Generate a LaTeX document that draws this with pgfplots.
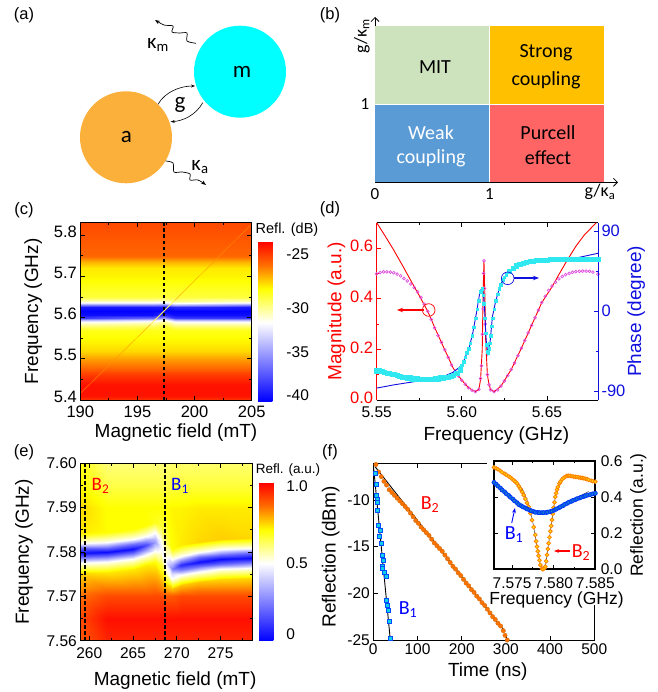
\documentclass[border=0pt]{standalone}
\usepackage{fontspec}
\setmainfont{Liberation Sans}
\newfontfamily\cb{Carlito}
\usepackage{pgfplots}
\pgfplotsset{compat=1.18}
\usetikzlibrary{arrows.meta}
\definecolor{mgreen}{HTML}{CDE3BE}
\definecolor{morange}{HTML}{FFC000}
\definecolor{mblue}{HTML}{5B9BD5}
\definecolor{mred}{HTML}{FF6565}
\definecolor{circa}{HTML}{FCB03C}
\definecolor{circm}{HTML}{00FFFF}
\definecolor{magpt}{HTML}{E050E0}
\definecolor{blue2}{HTML}{1010E0}
\definecolor{cyanpt}{HTML}{30E8F0}
\definecolor{cyansq}{HTML}{10D0E8}
\newcommand{\fs}[1]{\fontsize{#1}{#1}\selectfont}
\pgfplotsset{
  colormap={bwyr}{rgb255(0pt)=(0,0,255); rgb255(49pt)=(255,255,255); rgb255(70pt)=(255,255,0); rgb255(85pt)=(255,110,0); rgb255(100pt)=(255,0,0)},
  panel/.style={scale only axis, axis line style={line width=1pt}, tick align=inside,
    major tick length=4.5pt, minor tick length=2.5pt, every tick/.style={black,line width=.8pt},
    tick label style={font=\fs{16.5}}, label style={font=\fs{19}},
    scaled ticks=false},
  heat/.style={panel, axis on top, view={0}{90}, colormap name=bwyr, colorbar, shader=interp}
}
\begin{document}
\begin{tikzpicture}
\path[use as bounding box] (0pt,0pt) rectangle (657pt,-692pt);

% (b) regimes
\begin{axis}[scale only axis, at={(375pt,-182.3pt)}, anchor=south west, width=243pt, height=165.3pt,
  xmin=0, xmax=2.124, ymin=0, ymax=2.115, axis lines=left, axis line style={line width=.8pt,-{Straight Barb[length=4pt]}},
  xtick={0,1}, xticklabels={0,1}, ytick={1}, yticklabels={1}, tick style={draw=none}, tick label style={font=\cb\fs{17}}, clip=false,
  xticklabel style={yshift=-1pt}]
\addplot[fill=mgreen,draw=none] coordinates {(0,1) (1,1) (1,2) (0,2)} --cycle;
\addplot[fill=morange,draw=none] coordinates {(1,1) (2,1) (2,2) (1,2)} --cycle;
\addplot[fill=mblue,draw=none] coordinates {(0,0) (1,0) (1,1) (0,1)} --cycle;
\addplot[fill=mred,draw=none] coordinates {(1,0) (2,0) (2,1) (1,1)} --cycle;
\addplot[white,line width=.8pt] coordinates {(1,0) (1,2)};
\addplot[white,line width=.8pt] coordinates {(0,1) (2,1)};
\end{axis}

% (c)
\begin{axis}[heat, at={(80.3pt,-400pt)}, anchor=south west, width=171.4pt, height=177.3pt,
  xmin=190, xmax=205, ymin=5.4, ymax=5.83,
  xtick={190,195,200,205}, xticklabels={190,195,200,205}, minor xtick={192.5,197.5,202.5},
  ytick={5.4,5.5,5.6,5.7,5.8}, yticklabels={5.4,5.5,5.6,5.7,5.8}, minor ytick={5.45,5.55,5.65,5.75},
  yticklabel style={yshift=3.5pt}, xticklabel style={yshift=-2pt},
  xlabel={Magnetic field (mT)}, ylabel={Frequency (GHz)},
  xlabel style={xshift=10pt},
  xlabel shift=0pt, ylabel shift=5pt,
  point meta min=-41, point meta max=-23,
  colorbar style={scale only axis, at={(parent axis.south east)}, anchor=south west, xshift=-2pt, yshift=-1pt,
    width=24.7pt, height=160pt, axis line style={draw=none}, major tick length=0pt,
    ytick={-24.5,-30.5,-35.5,-40.3}, yticklabels={-25,-30,-35,-40},
    tick label style={font=\fs{15.5}}}]
\addplot3[surf, shader=interp, mesh/rows=26, mesh/cols=5] coordinates {
(190,5.40,-24.3) (196.3,5.40,-24.3) (197.3,5.40,-24.3) (198.3,5.40,-24.3) (205,5.40,-24.3)
(190,5.41,-23.5) (196.3,5.41,-23.5) (197.3,5.41,-23.5) (198.3,5.41,-23.5) (205,5.41,-23.5)
(190,5.43,-23.4) (196.3,5.43,-23.4) (197.3,5.43,-23.4) (198.3,5.43,-23.4) (205,5.43,-23.4)
(190,5.44,-23.5) (196.3,5.44,-23.5) (197.3,5.44,-23.5) (198.3,5.44,-23.5) (205,5.44,-23.5)
(190,5.46,-24.4) (196.3,5.46,-24.4) (197.3,5.46,-24.4) (198.3,5.46,-24.4) (205,5.46,-24.4)
(190,5.48,-25.7) (196.3,5.48,-25.7) (197.3,5.48,-25.7) (198.3,5.48,-25.7) (205,5.48,-25.7)
(190,5.50,-26.6) (196.3,5.50,-26.6) (197.3,5.50,-26.6) (198.3,5.50,-26.6) (205,5.50,-26.6)
(190,5.52,-27.7) (196.3,5.52,-27.7) (197.3,5.52,-27.7) (198.3,5.52,-27.7) (205,5.52,-27.7)
(190,5.55,-28.4) (196.3,5.55,-28.4) (197.3,5.55,-28.4) (198.3,5.55,-28.4) (205,5.55,-28.4)
(190,5.57,-28.8) (196.3,5.57,-28.8) (197.3,5.57,-28.8) (198.3,5.57,-28.8) (205,5.57,-28.8)
(190,5.58,-30.2) (196.3,5.58,-29.8) (197.3,5.58,-29.2) (198.3,5.58,-30.2) (205,5.58,-30.2)
(190,5.59,-32.0) (196.3,5.59,-31.5) (197.3,5.59,-30.5) (198.3,5.59,-32.0) (205,5.59,-32.0)
(190,5.595,-34.7) (196.3,5.595,-33.5) (197.3,5.595,-32.0) (198.3,5.595,-34.7) (205,5.595,-34.7)
(190,5.60,-39.0) (196.3,5.60,-37.5) (197.3,5.60,-35.5) (198.3,5.60,-39.0) (205,5.60,-39.0)
(190,5.605,-40.5) (196.3,5.605,-40.5) (197.3,5.605,-39.5) (198.3,5.605,-40.5) (205,5.605,-40.5)
(190,5.615,-41.0) (196.3,5.615,-41.0) (197.3,5.615,-41.0) (198.3,5.615,-41.0) (205,5.615,-41.0)
(190,5.625,-40.1) (196.3,5.625,-40.1) (197.3,5.625,-40.1) (198.3,5.625,-39.5) (205,5.625,-40.1)
(190,5.63,-36.5) (196.3,5.63,-36.5) (197.3,5.63,-36.8) (198.3,5.63,-35.0) (205,5.63,-36.5)
(190,5.635,-32.9) (196.3,5.635,-32.9) (197.3,5.635,-33.2) (198.3,5.635,-32.0) (205,5.635,-32.9)
(190,5.64,-31.1) (196.3,5.64,-31.1) (197.3,5.64,-31.3) (198.3,5.64,-30.4) (205,5.64,-31.1)
(190,5.65,-29.3) (196.3,5.65,-29.3) (197.3,5.65,-29.3) (198.3,5.65,-29.3) (205,5.65,-29.3)
(190,5.70,-28.2) (196.3,5.70,-28.2) (197.3,5.70,-28.2) (198.3,5.70,-28.2) (205,5.70,-28.2)
(190,5.72,-28.0) (196.3,5.72,-28.0) (197.3,5.72,-28.0) (198.3,5.72,-28.0) (205,5.72,-28.0)
(190,5.735,-27.0) (196.3,5.735,-27.0) (197.3,5.735,-27.0) (198.3,5.735,-27.0) (205,5.735,-27.0)
(190,5.75,-25.5) (196.3,5.75,-25.5) (197.3,5.75,-25.5) (198.3,5.75,-25.5) (205,5.75,-25.5)
(190,5.83,-24.8) (196.3,5.83,-24.8) (197.3,5.83,-24.8) (198.3,5.83,-24.8) (205,5.83,-24.8)
};
\addplot3[orange!85!yellow, line width=.5pt, opacity=.75] coordinates {(190,5.416,-30) (197.3,5.615,-30) (204.9,5.824,-30)};
\addplot3[yellow!60!white, line width=.9pt] coordinates {(196.2,5.585,-30) (197.3,5.615,-30) (198.3,5.643,-30)};
\addplot3[black, line width=2pt, dash pattern=on 3.5pt off 2.5pt] coordinates {(197.3,5.4,-30) (197.3,5.83,-30)};
\end{axis}

% (d) magnitude
\begin{axis}[panel, at={(376.7pt,-400pt)}, anchor=south west, width=221.3pt, height=177.3pt,
  xmin=5.55, xmax=5.68, ymin=0, ymax=0.7,
  separate axis lines, y axis line style={red},
  xtick={5.55,5.60,5.65}, xticklabels={5.55,5.60,5.65}, minor xtick={5.575,5.625},
  ytick={0,0.2,0.4,0.6}, yticklabels={0.0,0.2,0.4,0.6}, minor ytick={0.1,0.3,0.5},
  ytick pos=left, xtick pos=both,
  ytick style={red,line width=.8pt}, yticklabel style={red,yshift=2pt},
  xticklabel style={yshift=-3pt, font=\fs{15.5}},
  xlabel={Frequency (GHz)}, ylabel={Magnitude (a.u.)}, ylabel style={red},
  xlabel style={xshift=9pt},
  xlabel shift=2pt, ylabel shift=-2pt]
\addplot[only marks, mark=o, mark size=1.4pt, magpt, mark options={line width=.7pt}] coordinates {
(5.55,.498) (5.552,.503) (5.554,.506) (5.556,.506) (5.558,.505) (5.56,.502) (5.562,.497) (5.564,.49)
(5.566,.48) (5.568,.47) (5.57,.458) (5.572,.444) (5.574,.427) (5.576,.405) (5.578,.378) (5.58,.35)
(5.582,.318) (5.584,.285) (5.586,.255) (5.588,.228) (5.59,.198) (5.592,.168) (5.594,.138) (5.596,.113)
(5.598,.095) (5.6,.078) (5.602,.062) (5.604,.048) (5.606,.038) (5.608,.033) (5.61,.042) (5.611,.085)
(5.6115,.135) (5.612,.26) (5.6125,.36) (5.6128,.5) (5.613,.55) (5.6133,.44) (5.6137,.3) (5.614,.265)
(5.615,.10) (5.616,.06) (5.617,.04) (5.619,.033) (5.621,.04) (5.623,.055) (5.625,.075) (5.627,.097)
(5.629,.12) (5.631,.146) (5.633,.175) (5.635,.205) (5.637,.235) (5.639,.265) (5.641,.295) (5.643,.325)
(5.645,.355) (5.647,.385) (5.649,.41) (5.651,.433) (5.653,.45) (5.655,.465) (5.657,.478) (5.659,.488)
(5.661,.495) (5.663,.5) (5.665,.504) (5.667,.507) (5.669,.508) (5.671,.509) (5.673,.509) (5.675,.508)
(5.677,.505) (5.68,.497)};
\addplot[red, line width=.9pt] coordinates {
(5.55,.70) (5.555,.647) (5.56,.592) (5.565,.533) (5.57,.472) (5.575,.412) (5.58,.35) (5.585,.272)
(5.59,.198) (5.595,.125) (5.6,.078) (5.604,.048) (5.608,.033) (5.61,.042) (5.611,.08) (5.612,.2)
(5.6125,.42) (5.613,.55) (5.6135,.42) (5.614,.24) (5.615,.10) (5.616,.06) (5.617,.04) (5.619,.033)
(5.623,.055) (5.629,.12) (5.635,.205) (5.641,.295) (5.647,.385) (5.653,.447) (5.657,.495) (5.662,.553)
(5.667,.607) (5.672,.652) (5.679,.70)};
\end{axis}
% (d) phase
\begin{axis}[panel, at={(376.7pt,-400pt)}, anchor=south west, width=221.3pt, height=177.3pt,
  xmin=5.55, xmax=5.68, ymin=-100, ymax=99.4,
  axis x line=none, axis y line*=right, y axis line style={blue2},
  ytick={-90,0,90}, minor ytick={-45,45}, yticklabels={-90,0,90},
  ytick style={blue2,line width=.8pt}, yticklabel style={blue2},
  ylabel={Phase (degree)}, ylabel style={blue2}, ylabel shift=-5pt]
\addplot[only marks, mark=square*, mark size=2.1pt, cyanpt, mark options={draw=none}] coordinates {
(5.55,-67) (5.5515,-67) (5.553,-68) (5.5545,-69) (5.556,-70) (5.5575,-70) (5.559,-71) (5.5605,-71) (5.562,-72) (5.5635,-73) (5.565,-74)
(5.5665,-74) (5.568,-75) (5.5695,-75) (5.571,-76) (5.5725,-76) (5.574,-76) (5.5755,-77) (5.577,-77) (5.5785,-77) (5.58,-77) (5.5815,-77) (5.583,-77)
(5.5845,-76) (5.586,-76) (5.5875,-75) (5.589,-75) (5.5905,-74) (5.592,-74) (5.5935,-73) (5.595,-72) (5.597,-70) (5.599,-66)};
\addplot[only marks, mark=square*, mark size=1.3pt, cyanpt, mark options={draw=none}] coordinates {
(5.6,-61) (5.601,-57) (5.602,-52) (5.603,-47) (5.604,-42) (5.605,-36) (5.606,-28) (5.607,-18) (5.608,-8) (5.609,2) (5.61,12) (5.611,22) (5.612,25)
(5.6125,18) (5.613,8) (5.6135,-8) (5.614,-25) (5.6145,-38) (5.615,-46) (5.6155,-47) (5.616,-42) (5.6165,-36) (5.617,-28) (5.6175,-17) (5.618,-8)
(5.619,2) (5.62,12) (5.621,19) (5.622,25) (5.623,30) (5.624,35) (5.625,38) (5.626,41)};
\addplot[only marks, mark=square*, mark size=2.1pt, cyanpt, mark options={draw=none}] coordinates {
(5.628,45) (5.63,48) (5.632,51) (5.634,53) (5.636,54) (5.638,55) (5.64,56) (5.642,56) (5.644,57) (5.646,57) (5.648,57)
(5.65,57) (5.652,58) (5.654,58) (5.656,58) (5.658,58) (5.66,58) (5.662,58) (5.664,58) (5.666,58) (5.668,58)
(5.67,58) (5.672,58) (5.674,58) (5.676,58) (5.678,58) (5.68,58)};
\addplot[blue2, line width=.9pt] coordinates {
(5.55,-86.6) (5.56,-83) (5.57,-80) (5.581,-76.5) (5.59,-73) (5.5947,-69) (5.6,-61) (5.602,-52) (5.6045,-40) (5.6065,-24) (5.6085,-3)
(5.6105,20) (5.6112,24) (5.612,25.5) (5.6127,18) (5.6133,5) (5.6143,-33) (5.6153,-48) (5.6167,-33) (5.618,-6) (5.62,12) (5.622,25) (5.624,35)
(5.627,43) (5.63,48) (5.638,54) (5.65,56) (5.663,58) (5.68,65)};
\end{axis}

% (e)
\begin{axis}[heat, at={(80.3pt,-640.7pt)}, anchor=south west, width=171.7pt, height=177.4pt,
  xmin=258.97, xmax=278.6, ymin=7.56, ymax=7.60,
  xtick={260,265,270,275}, xticklabels={260,265,270,275}, minor xtick={262.5,267.5,272.5,277.5},
  ytick={7.56,7.57,7.58,7.59,7.60}, yticklabels={7.56,7.57,7.58,7.59,7.60}, minor ytick={7.565,7.575,7.585,7.595},
  xticklabel style={yshift=-3pt,font=\fs{15.5}}, yticklabel style={font=\fs{15.5}},
  xlabel={Magnetic field (mT)}, ylabel={Frequency (GHz)},
  xlabel style={xshift=9pt},
  xlabel shift=7pt, ylabel shift=7pt,
  point meta min=0, point meta max=1,
  colorbar style={scale only axis, at={(parent axis.south east)}, anchor=south west, xshift=-1.5pt, yshift=0pt,
    width=23.7pt, height=158pt, axis line style={draw=none}, major tick length=0pt,
    ytick={0.04,0.49,0.977}, yticklabels={0,0.5,1.0},
    tick label style={font=\fs{15.5}}}]
\addplot3[surf, shader=interp, mesh/rows=14, mesh/cols=12, mesh/ordering=y varies] coordinates {
(258.97,7.56,.88) (258.97,7.565,.90) (258.97,7.57,.85) (258.97,7.5715,.82) (258.97,7.5753,.74) (258.97,7.5776,.5) (258.97,7.5788,.2) (258.97,7.5798,.03) (258.97,7.5808,.2) (258.97,7.582,.5) (258.97,7.5843,.72) (258.97,7.59,.74) (258.97,7.595,.70) (258.97,7.60,.68)
(262,7.56,.95) (262,7.565,.98) (262,7.57,.90) (262,7.5715,.85) (262,7.5755,.72) (262,7.5778,.5) (262,7.579,.2) (262,7.58,.02) (262,7.581,.2) (262,7.5822,.5) (262,7.5845,.70) (262,7.59,.70) (262,7.595,.64) (262,7.60,.60)
(265,7.56,.95) (265,7.565,.98) (265,7.57,.90) (265,7.5715,.85) (265,7.5762,.72) (265,7.5785,.5) (265,7.5797,.2) (265,7.5807,.03) (265,7.5817,.22) (265,7.5829,.5) (265,7.5852,.70) (265,7.59,.70) (265,7.595,.64) (265,7.60,.60)
(266.5,7.56,.95) (266.5,7.565,.98) (266.5,7.57,.90) (266.5,7.5715,.85) (266.5,7.577,.72) (266.5,7.5793,.5) (266.5,7.5805,.3) (266.5,7.5815,.14) (266.5,7.5825,.28) (266.5,7.5837,.5) (266.5,7.586,.70) (266.5,7.59,.70) (266.5,7.595,.64) (266.5,7.60,.60)
(267.5,7.56,.95) (267.5,7.565,.98) (267.5,7.57,.90) (267.5,7.5715,.86) (267.5,7.5777,.70) (267.5,7.58,.52) (267.5,7.5812,.4) (267.5,7.5822,.3) (267.5,7.5832,.38) (267.5,7.5844,.5) (267.5,7.5867,.68) (267.5,7.59,.70) (267.5,7.595,.64) (267.5,7.60,.60)
(268.2,7.56,.95) (268.2,7.565,.98) (268.2,7.57,.90) (268.2,7.5715,.84) (268.2,7.577,.66) (268.2,7.5793,.55) (268.2,7.5805,.5) (268.2,7.5815,.47) (268.2,7.5825,.5) (268.2,7.5837,.55) (268.2,7.586,.66) (268.2,7.59,.70) (268.2,7.595,.64) (268.2,7.60,.60)
(268.8,7.56,.95) (268.8,7.565,.98) (268.8,7.57,.88) (268.8,7.5715,.80) (268.8,7.573,.72) (268.8,7.5753,.55) (268.8,7.5765,.5) (268.8,7.5775,.45) (268.8,7.5785,.5) (268.8,7.5797,.55) (268.8,7.582,.62) (268.8,7.59,.70) (268.8,7.595,.64) (268.8,7.60,.60)
(269.5,7.56,.95) (269.5,7.565,.98) (269.5,7.57,.88) (269.5,7.5715,.78) (269.5,7.5717,.77) (269.5,7.574,.5) (269.5,7.5752,.4) (269.5,7.5762,.25) (269.5,7.5772,.35) (269.5,7.5784,.5) (269.5,7.5807,.70) (269.5,7.59,.71) (269.5,7.595,.65) (269.5,7.60,.61)
(270.5,7.56,.95) (270.5,7.565,.98) (270.5,7.57,.90) (270.5,7.5715,.82) (270.5,7.5725,.76) (270.5,7.5748,.5) (270.5,7.576,.25) (270.5,7.577,.08) (270.5,7.578,.25) (270.5,7.5792,.5) (270.5,7.5815,.72) (270.5,7.59,.71) (270.5,7.595,.65) (270.5,7.60,.61)
(272.5,7.56,.95) (272.5,7.565,.98) (272.5,7.57,.90) (272.5,7.5715,.84) (272.5,7.5733,.76) (272.5,7.5756,.5) (272.5,7.5768,.2) (272.5,7.5778,.03) (272.5,7.5788,.2) (272.5,7.58,.5) (272.5,7.5823,.74) (272.5,7.59,.72) (272.5,7.595,.65) (272.5,7.60,.61)
(275,7.56,.95) (275,7.565,.98) (275,7.57,.90) (275,7.5715,.84) (275,7.5739,.74) (275,7.5762,.5) (275,7.5774,.2) (275,7.5784,.02) (275,7.5794,.2) (275,7.5806,.5) (275,7.5829,.75) (275,7.59,.72) (275,7.595,.65) (275,7.60,.61)
(278.6,7.56,.95) (278.6,7.565,.98) (278.6,7.57,.90) (278.6,7.5715,.84) (278.6,7.5742,.74) (278.6,7.5765,.5) (278.6,7.5777,.2) (278.6,7.5787,.02) (278.6,7.5797,.2) (278.6,7.5809,.5) (278.6,7.5832,.74) (278.6,7.59,.72) (278.6,7.595,.65) (278.6,7.60,.61)
};
\addplot3[black, line width=2pt, dash pattern=on 3.5pt off 2.5pt] coordinates {(259.47,7.56,.5) (259.47,7.60,.5)};
\addplot3[black, line width=2pt, dash pattern=on 3.5pt off 2.5pt] coordinates {(268.65,7.56,.5) (268.65,7.60,.5)};
\end{axis}

% (f)
\begin{axis}[panel, at={(373.3pt,-640pt)}, anchor=south west, width=221pt, height=176.7pt,
  xmin=0, xmax=500, ymin=-25, ymax=-6.07,
  xtick={0,100,200,300,400,500}, ytick={-25,-20,-15,-10}, yticklabels={-25,-20,-15,-10},
  xticklabels={0,100,200,300,400,500},
  tick label style={font=\fs{15.5}},
  xlabel={Time (ns)}, ylabel={Reflection (dBm)}, xlabel style={xshift=4pt}, xlabel shift=1pt, ylabel shift=1pt,
  ylabel style={at={(ticklabel cs:0.47)}}]
\addplot[only marks, mark=*, mark size=2.2pt, orange!90!red, mark options={draw=orange!80!black,line width=.3pt}] coordinates {
(6,-6.2) (12,-7) (18,-7.5) (24,-8) (30,-8.4) (36,-8.9) (42,-9.2) (48,-9.5) (54,-9.8) (60,-10.1) (66,-10.4)
(72,-10.7) (78,-11.0) (84,-11.4) (90,-11.8) (96,-12.2) (102,-12.5) (108,-12.9) (114,-13.2) (120,-13.5) (126,-13.8)
(132,-14.2) (138,-14.6) (144,-14.9) (150,-15.2) (156,-15.5) (162,-15.9) (168,-16.3) (174,-16.7) (180,-17.1)
(186,-17.4) (192,-17.8) (198,-18.1) (204,-18.5) (210,-18.9) (216,-19.2) (222,-19.6) (228,-19.9) (234,-20.3)
(240,-20.6) (246,-21.0) (252,-21.3) (258,-21.7) (264,-22.1) (270,-22.5) (276,-22.8) (282,-23.2) (288,-23.5)
(294,-24.0) (298,-24.5) (303,-25.0)};
\addplot[black, line width=.9pt] coordinates {(4,-6.43) (80,-11.0) (298,-24.1)};
\addplot[only marks, mark=square*, mark size=2pt, cyansq, mark options={draw=blue!70!cyan,line width=.3pt}] coordinates {
(3.8,-7.14) (6,-8.3) (7.5,-9.46) (8.5,-9.9) (9,-10.2) (9,-11.07) (11.3,-12.7) (15,-13.2) (13.6,-13.9) (17.3,-14.6)
(21,-15.9) (22.6,-16.4) (18.9,-17.1) (21,-17.3) (24,-17.7) (28.7,-18.2) (30,-20.7) (32.4,-21.25) (34,-21.8) (36,-23) (39.2,-24.8)};
\addplot[black, line width=.9pt] coordinates {(0,-6.2) (38.5,-25)};
\end{axis}

% white ground under the inset
\fill[white] (486.7pt,-455pt) rectangle (603pt,-605pt);

% (f) inset
\begin{axis}[panel, at={(493.7pt,-569.3pt)}, anchor=south west, width=101.6pt, height=108.6pt,
  xmin=7.5728, xmax=7.585, ymin=0, ymax=0.6, axis line style={line width=1.8pt},
  xtick={7.575,7.58,7.585}, xticklabels={7.575,7.580,7.585}, minor xtick={7.5775,7.5825},
  ytick={0,0.2,0.4,0.6}, yticklabels={0.0,0.2,0.4,0.6}, yticklabel pos=right,
  tick label style={font=\fs{15.5}}, xtick pos=both, ytick pos=both,
  xticklabel style={yshift=-5pt}, yticklabel style={xshift=2pt},
  xlabel={Frequency (GHz)}, ylabel={Reflection (a.u.)}, ylabel near ticks, label style={font=\fs{17.5}},
  xlabel style={xshift=12pt},
  xlabel shift=-4pt, ylabel shift=1pt]
\addplot[only marks, mark=*, mark size=1.9pt, yellow!80!orange, mark options={draw=orange,line width=.8pt}] coordinates {
(7.57284,.563) (7.5731,.558) (7.5733,.553) (7.5736,.544) (7.5738,.536) (7.5741,.528) (7.5743,.522) (7.5746,.514) (7.5748,.508) (7.5750,.5) (7.5752,.492)
(7.5754,.484) (7.5756,.475) (7.5758,.46) (7.576,.445) (7.5762,.428) (7.5764,.41) (7.5766,.389) (7.5768,.367) (7.577,.346) (7.5772,.31) (7.5774,.272)
(7.5776,.233) (7.5778,.19) (7.5779,.155) (7.578,.125) (7.5781,.10) (7.5782,.075) (7.5783,.05) (7.5784,.024) (7.5786,.004) (7.5787,0)
(7.5789,.006) (7.579,.015) (7.5791,.045) (7.5792,.08) (7.5793,.112) (7.5794,.144) (7.5795,.177) (7.5796,.21) (7.5797,.24) (7.5798,.273) (7.5799,.306)
(7.58,.34) (7.5801,.37) (7.5802,.4) (7.5803,.42) (7.5804,.44) (7.5805,.455) (7.5807,.475) (7.5808,.484) (7.581,.496)
(7.5812,.505) (7.5814,.511) (7.5816,.516) (7.5818,.517) (7.582,.516) (7.5822,.514) (7.5824,.512) (7.5826,.511) (7.5828,.51) (7.583,.508) (7.5832,.506) (7.5834,.505) (7.5836,.503)
(7.5838,.5) (7.584,.498) (7.5842,.494) (7.5845,.49) (7.5847,.487) (7.585,.484)};
\addplot[only marks, mark=*, mark size=2pt, cyan!60!blue, mark options={draw=blue!80!cyan,line width=.8pt}] coordinates {
(7.57284,.48) (7.5731,.47) (7.5733,.46) (7.5736,.449) (7.5738,.438) (7.5741,.428) (7.5743,.418) (7.5746,.408) (7.5748,.398) (7.5751,.388) (7.5753,.378) (7.5756,.368) (7.5758,.358)
(7.5761,.351) (7.5763,.345) (7.5766,.339) (7.5768,.333) (7.5771,.328) (7.5773,.323) (7.5776,.319)
(7.5778,.315) (7.5781,.314) (7.5783,.313) (7.5786,.313) (7.5788,.313) (7.5791,.314) (7.5793,.316) (7.5796,.319) (7.5798,.322) (7.5801,.327) (7.5803,.333) (7.5806,.339) (7.5808,.345)
(7.5811,.351) (7.5813,.358) (7.5816,.364) (7.5818,.37) (7.5821,.375) (7.5823,.38) (7.5826,.385)
(7.5828,.39) (7.5831,.394) (7.5833,.398) (7.5836,.402) (7.5838,.406) (7.5841,.41) (7.5844,.413) (7.5847,.417) (7.585,.42)};
\addplot[black!75, line width=.5pt] coordinates {
(7.57284,.563) (7.5748,.515) (7.5756,.485) (7.5764,.43) (7.577,.36) (7.5775,.26) (7.578,.125) (7.5784,.024) (7.5787,0) (7.579,.015)
(7.5794,.144) (7.5798,.273) (7.5802,.4) (7.5808,.484) (7.5816,.516) (7.5836,.503) (7.585,.484)};
\addplot[black!75, line width=.5pt] coordinates {
(7.5728,.48) (7.5748,.398) (7.5768,.333) (7.5785,.313) (7.5803,.333) (7.5823,.385) (7.5842,.43)};
\end{axis}

\begin{scope}[x=1pt,y=-1pt]
% panel letters
\foreach \t/\px/\py in {(a)/24/15,(b)/330/15,(c)/24/210,(d)/330/209,(e)/24/452,(f)/330/452}
  \node[font=\fs{16.5}] at (\px,\py) {\t};
% (a) modes
\fill[circm] (240,71.7) circle (46pt);
\fill[circa] (126,137.3) circle (46pt);
\node[font=\cb\fs{23}] at (242,72) {m};
\node[font=\cb\fs{23}] at (126.5,137) {a};
\node[font=\cb\fs{23}] at (180,105) {g};
\draw[-{Stealth[length=4pt]},line width=.6pt] (158,104.3) .. controls (165,92) and (180,86) .. (195,86);
\draw[-{Stealth[length=4pt]},line width=.6pt] (202.7,102.7) .. controls (196,115) and (183,121) .. (170.7,121.7);
\draw[-{Stealth[length=5pt]},line width=.7pt] plot[smooth] coordinates {(196,43.3) (187,41) (187,33) (180,33) (172,32) (173,26) (164,25) (155,20)};
\draw[-{Stealth[length=5pt]},line width=.7pt] plot[smooth] coordinates {(165.7,161) (173,163) (174,172) (182,172) (190,174) (190,180) (198,180) (206,185)};
\node[font=\cb\fs{21}] at (158,45) {κ\textsubscript{m}};
\node[font=\cb\fs{21}] at (200,167) {κ\textsubscript{a}};
% (b) text
\node[font=\cb\fs{20}] at (435,67) {MIT};
\node[font=\cb\fs{20},align=center] at (546,53) {Strong};
\node[font=\cb\fs{20}] at (546,80) {coupling};
\node[font=\cb\fs{20},white] at (431,133) {Weak};
\node[font=\cb\fs{20},white] at (431,158) {coupling};
\node[font=\cb\fs{20}] at (548,133) {Purcell};
\node[font=\cb\fs{20}] at (548,158) {effect};
\node[font=\cb\fs{18}] at (600,192) {g/κ\textsubscript{a}};
\node[font=\cb\fs{18},rotate=90] at (362,36) {g/κ\textsubscript{m}};
% colorbar titles
\node[font=\fs{14.5}] at (287,230) {Refl. (dB)};
\node[font=\fs{13.5}] at (288,470) {Refl. (a.u.)};
% (d) markers
\draw[red,line width=.7pt] (428.7,310) circle (6.3pt);
\draw[red,line width=1.3pt,-{Stealth[length=6pt]}] (423.5,310) -- (397,310);
\draw[blue2,line width=.7pt] (507.7,278.3) circle (6.3pt);
\draw[blue2,line width=1.3pt,-{Stealth[length=6pt]}] (514,278) -- (539,278);
% (e),(f) B labels
\node[font=\cb\fs{19},red] at (100.5,486) {B\textsubscript{2}};
\node[font=\cb\fs{19},blue] at (180,486) {B\textsubscript{1}};
\node[font=\cb\fs{20},red] at (430,505) {B\textsubscript{2}};
\node[font=\cb\fs{20},blue] at (408,610) {B\textsubscript{1}};
\node[font=\cb\fs{20},blue] at (514,535) {B\textsubscript{1}};
\node[font=\cb\fs{20},red] at (581,553) {B\textsubscript{2}};
\draw[blue,line width=.9pt,-{Stealth[length=5pt]}] (511.7,523) -- (515,508);
\draw[red,line width=1.1pt,-{Stealth[length=5pt]}] (570,551) -- (554,551);
\end{scope}
\end{tikzpicture}
\end{document}
